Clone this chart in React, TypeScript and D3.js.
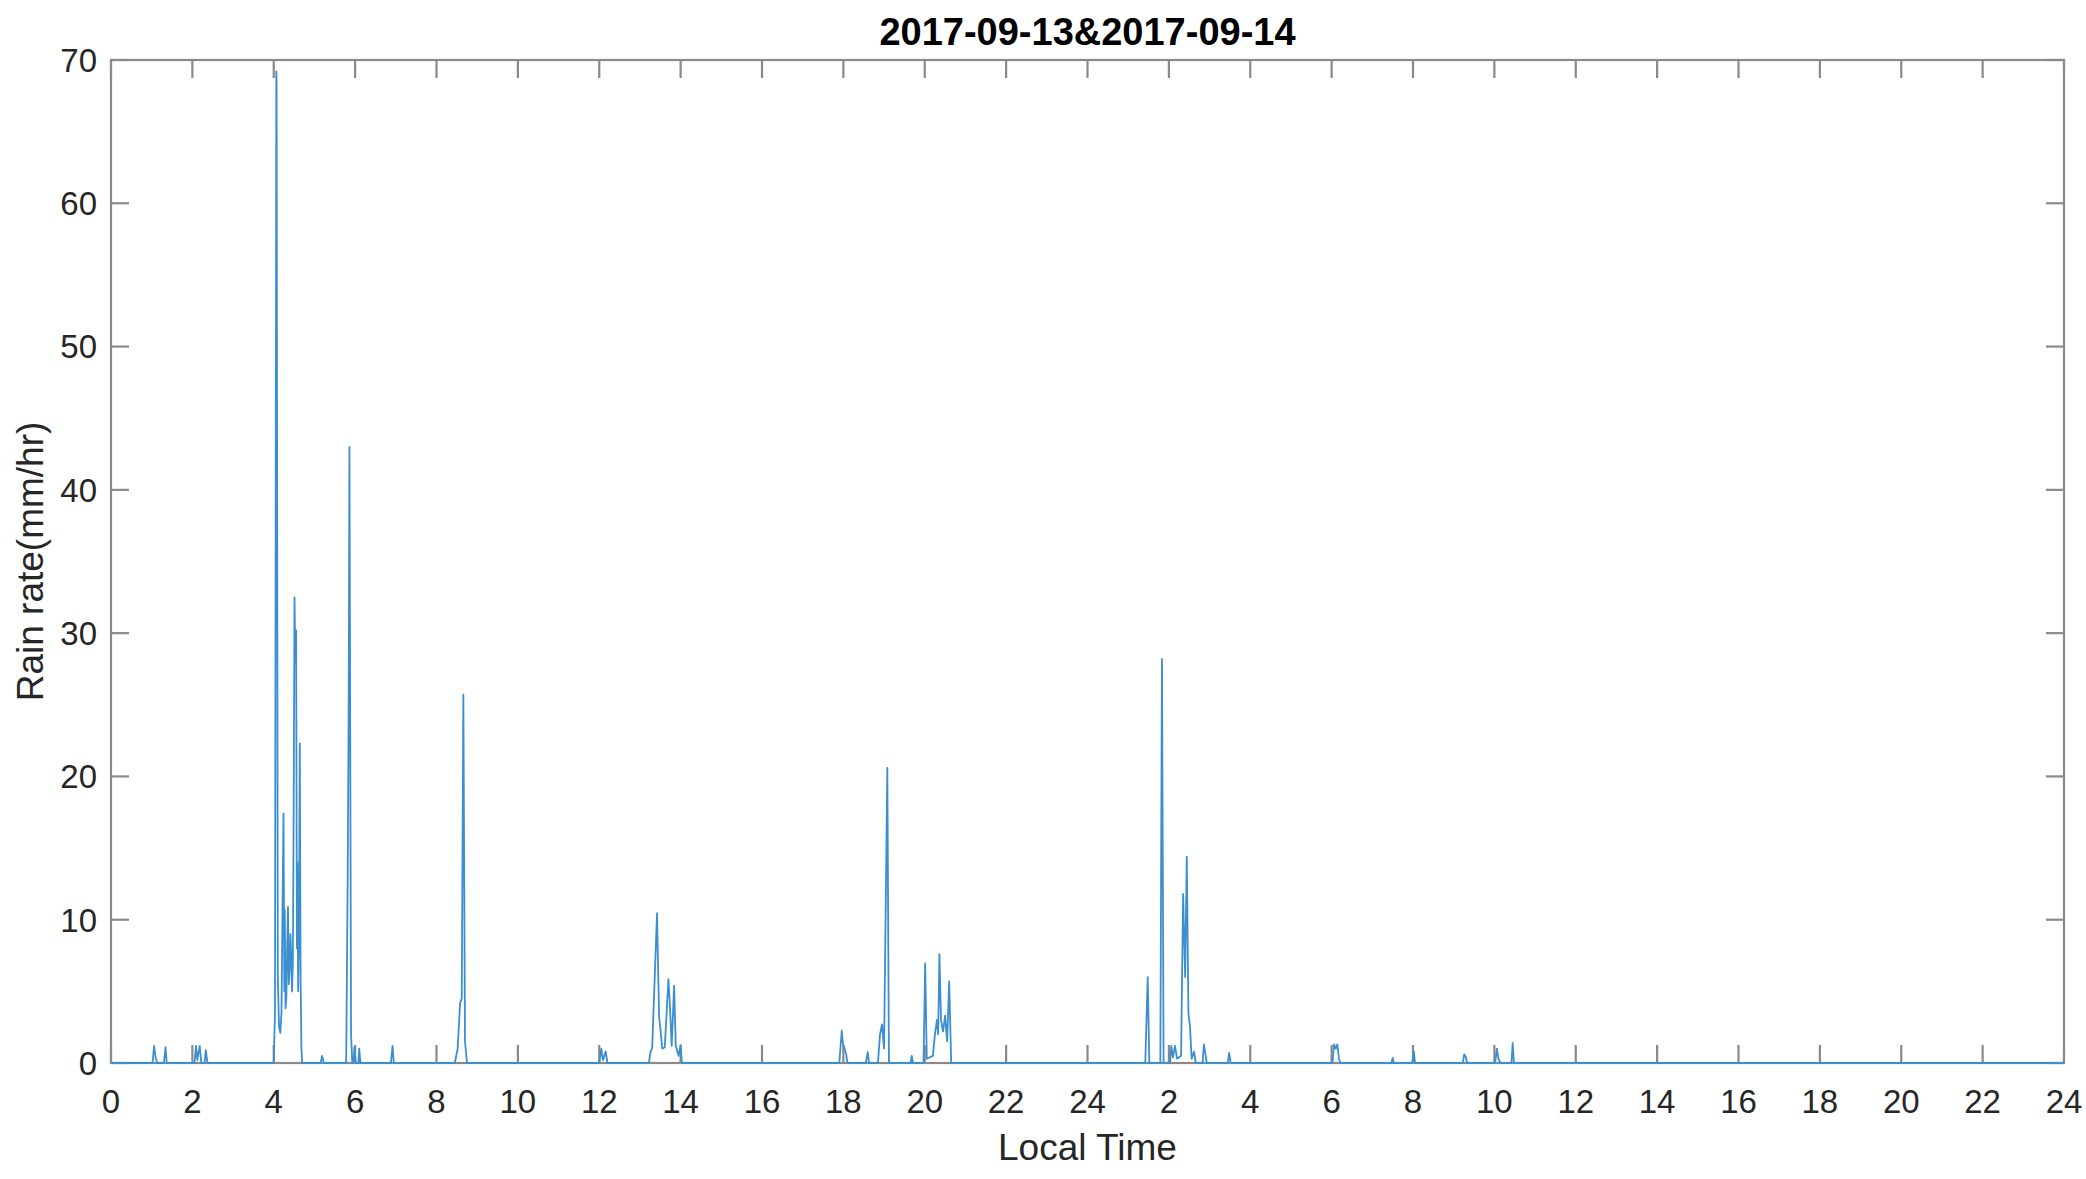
import React from "react";
import * as d3 from "d3";

const TITLE = "2017-09-13&2017-09-14";
const X_LABEL = "Local Time";
const Y_LABEL = "Rain rate(mm/hr)";

const xTickValues = [0, 2, 4, 6, 8, 10, 12, 14, 16, 18, 20, 22, 24, 26, 28, 30, 32, 34, 36, 38, 40, 42, 44, 46, 48];
const xTickLabels = ["0", "2", "4", "6", "8", "10", "12", "14", "16", "18", "20", "22", "24", "2", "4", "6", "8", "10", "12", "14", "16", "18", "20", "22", "24"];
const yTickValues = [0, 10, 20, 30, 40, 50, 60, 70];

// elapsed hours since 2017-09-13 00:00 local time
const hours = [
  0, 1.02, 1.06, 1.1, 1.14, 1.3, 1.34, 1.37,
  2.05, 2.09, 2.12, 2.18, 2.22, 2.3, 2.33, 2.37,
  4.0, 4.03, 4.063, 4.07, 4.1, 4.13, 4.16, 4.19, 4.22, 4.24, 4.26, 4.27, 4.29, 4.31, 4.33, 4.35, 4.37, 4.39,
  4.41, 4.43, 4.45, 4.47, 4.49, 4.51, 4.53, 4.55, 4.57, 4.58, 4.6, 4.62, 4.64, 4.66, 4.68, 4.7,
  5.15, 5.19, 5.23,
  5.78, 5.82, 5.84, 5.86, 5.9, 5.93, 5.96, 5.98, 6.02, 6.08, 6.1, 6.13,
  6.88, 6.92, 6.95,
  8.45, 8.52, 8.58, 8.62, 8.66, 8.7, 8.75,
  12.0, 12.05, 12.09, 12.16, 12.2,
  13.22, 13.26, 13.3, 13.42, 13.47, 13.55, 13.61, 13.7, 13.74, 13.78, 13.84, 13.88, 13.95, 14.0, 14.03,
  17.9, 17.96, 17.99, 18.03, 18.07, 18.1,
  18.55, 18.6, 18.63,
  18.85, 18.9, 18.95, 19.0, 19.08, 19.12,
  19.65, 19.68, 19.71,
  19.97, 20.01, 20.05, 20.2, 20.25, 20.3, 20.33, 20.36, 20.4, 20.45, 20.5, 20.55, 20.6, 20.65,
  25.42, 25.48, 25.52,
  25.79, 25.83, 25.87,
  26.03, 26.06, 26.1, 26.15, 26.2, 26.3, 26.35, 26.4, 26.44, 26.48, 26.52, 26.56, 26.62, 26.66,
  26.83, 26.86, 26.9, 26.93,
  27.45, 27.48, 27.52,
  30.02, 30.06, 30.1, 30.14, 30.18, 30.22,
  31.47, 31.5, 31.53,
  31.98, 32.02, 32.05,
  33.22, 33.26, 33.3, 33.33,
  34.02, 34.06, 34.1, 34.15,
  34.42, 34.45, 34.48,
  48,
];

const rainRate = [
  0, 0, 1.2, 0.3, 0, 0, 1.1, 0,
  0, 1.2, 0.2, 1.2, 0, 0, 0.9, 0,
  0, 3.5, 69.2, 68.5, 6, 2.5, 2.1, 3.5, 12, 17.4, 5, 10.7, 3.8, 4.6, 8, 10.9, 5.5, 6.5,
  9, 7.4, 5, 7.0, 18, 32.5, 28, 30.2, 8, 14, 5, 9.3, 22.3, 6, 1.0, 0,
  0, 0.5, 0,
  0, 14, 24.3, 43, 2, 0, 0, 1.1, 0, 0, 1.0, 0,
  0, 1.2, 0,
  0, 1.0, 4.2, 4.5, 25.7, 1.5, 0,
  0, 1.0, 0.2, 0.8, 0,
  0, 0.8, 1.0, 10.45, 3.3, 1.0, 1.1, 5.85, 3.8, 1.2, 5.4, 1.2, 0.5, 1.25, 0,
  0, 2.25, 1.3, 1.0, 0.6, 0,
  0, 0.75, 0,
  0, 2.0, 2.7, 1.0, 20.6, 0,
  0, 0.5, 0,
  0, 6.95, 0.3, 0.5, 2.0, 3.0, 2.0, 7.6, 3.0, 2.2, 3.3, 1.5, 5.7, 0,
  0, 6.0, 0,
  0, 28.2, 0,
  0, 1.2, 0.4, 1.2, 0.3, 0.5, 11.8, 6, 14.4, 3.5, 2.5, 0.3, 0.8, 0,
  0, 1.3, 0.6, 0,
  0, 0.7, 0,
  0, 1.3, 1.0, 1.3, 0.3, 0,
  0, 0.35, 0,
  0, 0.8, 0,
  0, 0.6, 0.4, 0,
  0, 1.0, 0.3, 0,
  0, 1.4, 0,
  0,
];

const W = 2086;
const H = 1179;
const M = { left: 111, right: 2064, top: 60, bottom: 1063 };
const FONT = "'Liberation Sans', Arial, Helvetica, sans-serif";
const AXIS_COLOR = "#8a8a8a";
const TEXT_COLOR = "#262626";
const LINE_COLOR = "#3b8fd0";
const TICK_LEN = 18;

export default function App() {
  const x = d3.scaleLinear().domain([0, 48]).range([M.left, M.right]);
  const y = d3.scaleLinear().domain([0, 70]).range([M.bottom, M.top]);
  const points = hours.map((h, i) => [h, rainRate[i]] as [number, number]);
  const line = d3
    .line<[number, number]>()
    .x((d) => x(d[0]))
    .y((d) => y(d[1]));

  return (
    <svg
      width={W}
      height={H}
      style={{ position: "absolute", left: 0, top: 0, display: "block", background: "#fff" }}
      fontFamily={FONT}
    >
      <rect x={0} y={0} width={W} height={H} fill="#fff" />
      {/* box */}
      <rect
        x={M.left}
        y={M.top}
        width={M.right - M.left}
        height={M.bottom - M.top}
        fill="none"
        stroke={AXIS_COLOR}
        strokeWidth={2.2}
      />
      {/* x ticks (inside, top and bottom) */}
      {xTickValues.map((v, i) => (
        <g key={"xt" + i}>
          <line x1={x(v)} x2={x(v)} y1={M.bottom} y2={M.bottom - TICK_LEN} stroke={AXIS_COLOR} strokeWidth={2.2} />
          <line x1={x(v)} x2={x(v)} y1={M.top} y2={M.top + TICK_LEN} stroke={AXIS_COLOR} strokeWidth={2.2} />
          <text x={x(v)} y={1113} textAnchor="middle" fontSize={33} fill={TEXT_COLOR}>
            {xTickLabels[i]}
          </text>
        </g>
      ))}
      {/* y ticks (inside, left and right) */}
      {yTickValues.map((v) => (
        <g key={"yt" + v}>
          <line x1={M.left} x2={M.left + TICK_LEN} y1={y(v)} y2={y(v)} stroke={AXIS_COLOR} strokeWidth={2.2} />
          <line x1={M.right} x2={M.right - TICK_LEN} y1={y(v)} y2={y(v)} stroke={AXIS_COLOR} strokeWidth={2.2} />
          <text x={97} y={y(v)} dy="0.36em" textAnchor="end" fontSize={33} fill={TEXT_COLOR}>
            {v}
          </text>
        </g>
      ))}
      {/* data */}
      <path d={line(points) || ""} fill="none" stroke={LINE_COLOR} strokeWidth={1.8} strokeLinejoin="round" />
      {/* labels */}
      <text x={(M.left + M.right) / 2} y={45} textAnchor="middle" fontSize={38} fontWeight="bold" fill="#000">
        {TITLE}
      </text>
      <text x={(M.left + M.right) / 2} y={1160} textAnchor="middle" fontSize={37} fill={TEXT_COLOR}>
        {X_LABEL}
      </text>
      <text
        transform={`translate(43,${(M.top + M.bottom) / 2}) rotate(-90)`}
        textAnchor="middle"
        fontSize={37}
        fill={TEXT_COLOR}
      >
        {Y_LABEL}
      </text>
    </svg>
  );
}
